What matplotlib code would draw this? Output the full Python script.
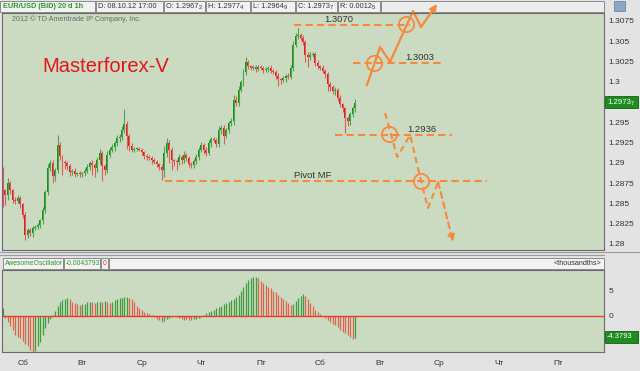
import numpy as np
import matplotlib.pyplot as plt
from matplotlib.patches import Rectangle, Circle

plt.rcParams['font.family'] = ['Liberation Sans', 'DejaVu Sans']

# EUR/USD 1h closes
closes = [1.2866, 1.2860, 1.2875, 1.2866, 1.2854, 1.2853, 1.2857, 1.2849, 1.2836, 1.2811,
          1.2817, 1.2813, 1.2820, 1.2821, 1.2823, 1.2829, 1.2842, 1.2864, 1.2893, 1.2900,
          1.2884, 1.2891, 1.2922, 1.2908, 1.2901, 1.2900, 1.2896, 1.2888, 1.2890, 1.2886,
          1.2887, 1.2886, 1.2887, 1.2890, 1.2895, 1.2900, 1.2897, 1.2893, 1.2903, 1.2912,
          1.2896, 1.2891, 1.2910, 1.2916, 1.2919, 1.2924, 1.2930, 1.2932, 1.2940, 1.2948,
          1.2933, 1.2921, 1.2916, 1.2917, 1.2917, 1.2916, 1.2913, 1.2908, 1.2907, 1.2906,
          1.2903, 1.2901, 1.2898, 1.2895, 1.2891, 1.2912, 1.2924, 1.2916, 1.2903, 1.2902,
          1.2901, 1.2907, 1.2903, 1.2910, 1.2906, 1.2898, 1.2897, 1.2902, 1.2907, 1.2916,
          1.2922, 1.2916, 1.2912, 1.2924, 1.2929, 1.2928, 1.2923, 1.2940, 1.2943, 1.2933,
          1.2940, 1.2949, 1.2951, 1.2977, 1.2974, 1.2990, 1.2999, 1.3012, 1.3024, 1.3019,
          1.3017, 1.3018, 1.3015, 1.3018, 1.3017, 1.3014, 1.3015, 1.3017, 1.3013, 1.3012,
          1.3007, 1.3003, 1.3002, 1.3004, 1.3007, 1.3006, 1.3017, 1.3045, 1.3056, 1.3057,
          1.3054, 1.3049, 1.3033, 1.3030, 1.3033, 1.3034, 1.3023, 1.3019, 1.3017, 1.3013,
          1.3009, 1.2997, 1.2993, 1.2988, 1.2990, 1.2980, 1.2972, 1.2967, 1.2955, 1.2951,
          1.2960, 1.2967, 1.2974]
first_open = 1.2892
# wick lengths in pips above / below the body
wick_up = [3, 2, 6, 3, 2, 4, 3, 2, 2, 3,
           2, 3, 2, 2, 3, 2, 4, 3, 5, 4,
           3, 2, 12, 3, 2, 3, 2, 3, 2, 3,
           2, 3, 2, 3, 4, 2, 3, 3, 4, 5,
           3, 2, 4, 3, 4, 3, 4, 3, 5, 18,
           3, 2, 3, 2, 2, 3, 2, 2, 3, 2,
           2, 3, 2, 2, 3, 9, 6, 4, 3, 2,
           3, 4, 3, 4, 2, 2, 3, 3, 4, 3,
           4, 2, 3, 4, 3, 3, 2, 5, 4, 3,
           3, 3, 4, 6, 5, 4, 3, 4, 6, 3,
           2, 3, 2, 3, 2, 2, 3, 2, 3, 2,
           2, 3, 2, 3, 2, 3, 4, 5, 4, 9,
           3, 3, 2, 3, 3, 2, 2, 3, 2, 3,
           2, 3, 2, 3, 3, 2, 3, 2, 2, 3,
           3, 3, 4]
wick_dn = [20, 12, 6, 5, 4, 4, 3, 5, 4, 6,
           4, 3, 4, 3, 3, 3, 4, 4, 4, 3,
           9, 6, 4, 5, 16, 8, 5, 4, 3, 3,
           2, 3, 3, 3, 3, 4, 12, 10, 4, 5,
           18, 6, 4, 3, 3, 4, 3, 4, 4, 3,
           16, 6, 3, 3, 3, 2, 3, 3, 3, 3,
           4, 3, 3, 4, 12, 8, 5, 16, 12, 6,
           10, 4, 5, 3, 4, 3, 3, 3, 4, 4,
           3, 5, 4, 3, 4, 3, 4, 3, 4, 10,
           3, 3, 4, 5, 4, 4, 3, 4, 4, 3,
           3, 3, 3, 2, 3, 3, 2, 3, 3, 3,
           4, 8, 5, 3, 4, 3, 3, 4, 3, 3,
           3, 4, 9, 12, 4, 3, 4, 3, 3, 3,
           4, 9, 4, 3, 4, 4, 3, 4, 18, 6,
           5, 4, 4]

# Awesome Oscillator, thousandths
ao = [1.4, -0.5, -1.2, -2.1, -2.8, -3.7, -4.1, -4.4, -5.0, -5.6,
      -6.0, -6.7, -7.1, -6.9, -6.0, -5.1, -3.8, -2.5, -1.5, -0.6,
      0.2, 0.9, 1.8, 2.6, 3.1, 3.3, 3.4, 3.3, 2.7, 2.4,
      2.2, 2.1, 2.2, 2.3, 2.6, 2.7, 2.6, 2.5, 2.6, 2.7,
      2.6, 2.8, 2.6, 2.4, 2.7, 3.0, 3.2, 3.4, 3.5, 3.6,
      3.7, 3.5, 3.2, 2.6, 1.8, 1.4, 1.1, 0.8, 0.6, 0.3,
      0.1, -0.2, -0.6, -0.8, -1.3, -1.0, -0.6, -0.4, -0.2, -0.1,
      -0.3, -0.5, -0.7, -0.8, -0.6, -0.8, -0.8, -0.7, -0.6, -0.4,
      -0.2, 0.2, 0.5, 0.7, 0.9, 1.2, 1.4, 1.7, 1.9, 2.2,
      2.4, 2.7, 3.0, 3.3, 3.6, 4.0, 4.8, 5.5, 6.3, 6.9,
      7.3, 7.5, 7.6, 7.3, 6.8, 6.4, 6.0, 5.6, 5.3, 4.9,
      4.6, 4.1, 3.7, 3.3, 2.9, 2.4, 2.1, 2.3, 2.9, 3.4,
      3.8, 4.2, 3.9, 3.3, 2.4, 1.8, 1.2, 0.7, 0.3, -0.1,
      -0.4, -0.8, -1.2, -1.6, -1.9, -2.3, -2.7, -3.1, -3.4, -3.8,
      -4.1, -4.5, -4.38]

price_ticks = [1.28, 1.2825, 1.285, 1.2875, 1.29, 1.2925, 1.295,
               1.3, 1.3025, 1.305, 1.3075]
day_ticks = [8, 32, 56, 80, 104, 128, 152, 176, 200, 224]
day_labels = ['Сб', 'Вт', 'Ср', 'Чт', 'Пт', 'Сб', 'Вт', 'Ср', 'Чт', 'Пт']

# hand-drawn levels: start bar, end bar, price, label, label bar
levels = [(117.4, 164.2, 1.30703, '1.3070', 135.5),
          (141.2, 177.5, 1.30229, '1.3003', 168.2),
          (133.9, 181.1, 1.29348, '1.2936', 169.0),
          (65.3, 195.2, 1.28775, 'Pivot MF', 125.0)]
circles = [(162.6, 1.30709), (149.7, 1.30229), (155.7, 1.29354), (168.6, 1.28775)]
up_path = [(146.8, 1.29958), (152.1, 1.30426), (156.1, 1.30241),
           (165.4, 1.30870), (168.6, 1.30672), (175.1, 1.30956)]
down_path = [(154.1, 1.29613), (159.0, 1.29071), (164.2, 1.29342), (168.6, 1.28775),
             (171.4, 1.28442), (175.5, 1.28763), (181.5, 1.28024)]

last_price = '1.2973'
ao_last = '-4.3793'

W, H = 640, 371
panel = '#cbdbc1'
orange = '#f7883c'
green = '#1c8c1c'
red = '#dc1c1c'

fig = plt.figure(figsize=(6.4, 3.71), dpi=100, facecolor='#e3e3e3')


def box(x0, y0, x1, y1):
    return [x0 / W, 1 - y1 / H, (x1 - x0) / W, (y1 - y0) / H]


over = fig.add_axes([0, 0, 1, 1], zorder=0)
over.set_xlim(0, W)
over.set_ylim(H, 0)
over.axis('off')

ax = fig.add_axes(box(2, 13, 604, 250), facecolor=panel, zorder=2)
ax2 = fig.add_axes(box(2, 270, 604, 352), facecolor=panel, zorder=2)

# ---- candles
n = len(closes)
idx = np.arange(n)
c = np.array(closes)
o = np.array([first_open] + closes[:-1])
hi = np.maximum(o, c) + np.array(wick_up) * 0.0001
lo = np.minimum(o, c) - np.array(wick_dn) * 0.0001
up = c >= o
ax.vlines(idx[up], lo[up], hi[up], color='#4aa64a', lw=0.8)
ax.vlines(idx[~up], lo[~up], hi[~up], color='#e05a5a', lw=0.8)
body = np.maximum(np.abs(c - o), 0.00008)
ax.bar(idx, body, bottom=np.minimum(o, c), width=0.8,
       color=np.where(up, green, red), linewidth=0)

ax.set_xlim(-0.4, 242.4)
ax.set_ylim(1.27925, 1.30845)
ax.yaxis.tick_right()
ax.set_yticks(price_ticks, [f'{v:g}' for v in price_ticks])
ax.tick_params(axis='y', length=0, pad=3, labelsize=6, labelcolor='#333333')
ax.set_xticks([])
for s in ax.spines.values():
    s.set_color('#6a6a6a')
    s.set_linewidth(0.8)

ax.text(15.7, 1.30186, 'Masterforex-V', color='#e8141c', fontsize=14.5, va='center')

# ---- annotations
for x0, x1, p, lab, lx in levels:
    ax.plot([x0, x1], [p, p], color=orange, lw=1.5, ls=(0, (3.5, 2)), clip_on=False)
    ax.text(lx, p + 0.00012, lab, fontsize=6.8, color='#333333',
            ha='center', va='bottom')
for cx, cy in circles:
    ax.plot(cx, cy, marker='o', ms=11, mfc='none', mec=orange, mew=1.3, clip_on=False)

ux, uy = zip(*up_path)
ax.plot(ux[:-1], uy[:-1], color=orange, lw=1.6, clip_on=False)
ax.annotate('', xy=up_path[-1], xytext=up_path[-2], annotation_clip=False,
            arrowprops=dict(arrowstyle='-|>', color=orange, lw=1.6,
                            mutation_scale=10, shrinkA=0, shrinkB=0))
dx, dy = zip(*down_path)
ax.plot(dx[:-1], dy[:-1], color=orange, lw=1.5, ls=(0, (3, 2)), clip_on=False)
ax.annotate('', xy=down_path[-1], xytext=down_path[-2], annotation_clip=False,
            arrowprops=dict(arrowstyle='-|>', color=orange, lw=1.5, ls=(0, (3, 2)),
                            mutation_scale=10, shrinkA=0, shrinkB=0))

# ---- oscillator
ao_arr = np.array(ao)
rising = np.r_[True, ao_arr[1:] > ao_arr[:-1]]
ax2.vlines(idx, 0, ao_arr, colors=np.where(rising, '#3e9e3e', '#e0614e'), lw=0.9)
ax2.axhline(0, color='#ec3a2a', lw=1.0)
ax2.set_xlim(-0.4, 242.4)
ax2.set_ylim(-7.08, 8.9)
ax2.yaxis.tick_right()
ax2.set_yticks([5, 0], ['5', '0'])
ax2.tick_params(axis='y', length=0, pad=3, labelsize=6, labelcolor='#333333')
ax2.set_xticks(day_ticks, day_labels)
ax2.tick_params(axis='x', length=0, pad=6, labelsize=6, labelcolor='#333333')
for s in ax2.spines.values():
    s.set_color('#6a6a6a')
    s.set_linewidth(0.8)

# ---- header boxes (pixel coords)
r = fig.canvas.get_renderer()


def hbox(x0, x1, y0=1, y1=12, fc='#f2f2f2'):
    over.add_patch(Rectangle((x0, y0), x1 - x0, y1 - y0, fc=fc, ec='#8a8a8a', lw=0.7))


def htext(x, y, s, small=None, **kw):
    kw.setdefault('fontsize', 5.3)
    kw.setdefault('color', '#333333')
    t = over.text(x, y, s, va='center', **kw)
    if small:
        bb = t.get_window_extent(r)
        over.text(bb.x1 + 0.3, y + 1.2, small, va='center', fontsize=4.2, color=kw['color'])


hbox(0, 95)
htext(3, 6.5, 'EUR/USD (BID) 20 d 1h', color='#2a9a2a', fontweight='bold', fontsize=5.3)
hbox(96, 163)
htext(98, 6.5, 'D: 08.10.12 17:00')
hbox(164, 205)
htext(166, 6.5, 'O: 1.2967', small='2')
hbox(206, 250)
htext(208, 6.5, 'H: 1.2977', small='4')
hbox(251, 295)
htext(253, 6.5, 'L: 1.2964', small='9')
hbox(296, 337)
htext(298, 6.5, 'C: 1.2973', small='7')
hbox(338, 380)
htext(340, 6.5, 'R: 0.0012', small='5')
hbox(381, 604, fc='#ececec')
over.add_patch(Rectangle((614, 1), 11, 10, fc='#8aa6c4', ec='#6a86a8', lw=0.6))

# copyright line inside price panel
over.add_patch(Circle((7, 19), 3.6, fc='#3aa03a', ec='#2a7a2a', lw=0.5, zorder=3))
fig.text(12 / W, 1 - 19.5 / H, '2012 © TD Ameritrade IP Company, Inc.', fontsize=5.2,
         color='#6a6a6a', va='center', zorder=5)

# price tag
tag_y = 102
over.add_patch(Rectangle((605, tag_y - 6), 33, 12, fc='#1e8c1e', ec='#106010', lw=0.6))
htext(607, tag_y, last_price, small='7', color='white', fontsize=5.6)

# separator between panels
over.plot([0, 640], [251.5, 251.5], color='#9a9a9a', lw=0.8)
over.plot([0, 604], [254.5, 254.5], color='#9a9a9a', lw=0.8)

# oscillator header
hbox(3, 63, 258, 269)
htext(4.5, 263.5, 'AwesomeOscillator', color='#2a9a2a', fontsize=4.9)
hbox(64, 100, 258, 269)
htext(65.5, 263.5, '-0.0043793', color='#2a9a2a', fontsize=4.9)
hbox(101, 108, 258, 269)
htext(102.5, 263.5, '0', color='#e83030', fontsize=4.9)
hbox(109, 604, 258, 269)
over.text(601, 263.5, '<thousandths>', fontsize=5.2, color='#333333', ha='right', va='center')

# AO tag
over.add_patch(Rectangle((605, 331), 33, 12, fc='#1e8c1e', ec='#106010', lw=0.6))
htext(606.5, 337, ao_last, color='white', fontsize=5.4)

fig.savefig('out.png', dpi=100, facecolor=fig.get_facecolor())
